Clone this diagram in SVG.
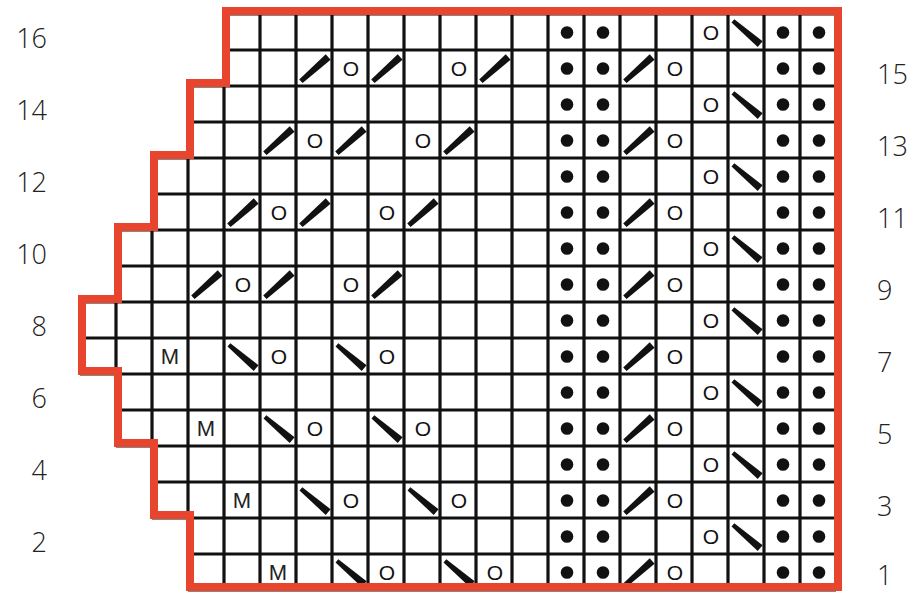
<svg xmlns="http://www.w3.org/2000/svg" xmlns:xlink="http://www.w3.org/1999/xlink" width="912" height="594" viewBox="0 0 912 594">
<style>
.g{stroke:#111;stroke-width:3.2;fill:none}
.red{stroke:#e8452f;stroke-width:8;fill:none;stroke-linejoin:miter}
.lbl{font-family:"Open Sans","Liberation Sans",sans-serif;font-weight:300;font-size:27px;fill:#222}
.o{font-family:"Liberation Sans Narrow","Liberation Sans",sans-serif;font-size:21px;fill:#111;text-anchor:middle}
.m{font-family:"Liberation Sans Narrow","Liberation Sans",sans-serif;font-size:22px;fill:#222;text-anchor:middle}
.d{fill:#111}
</style>
<defs>
<polygon id="sl" points="3.2,29.6 29.7,4.2 34.6,9.8 6.6,33" fill="#111"/>
<polygon id="bs" points="6.3,5.3 34.6,27.3 29.7,32.9 3.5,8.5" fill="#111"/>
<g id="dots4">
<circle class="d" cx="567" cy="18.5" r="6.3"/>
<circle class="d" cx="603" cy="18.5" r="6.3"/>
<circle class="d" cx="783" cy="18.5" r="6.3"/>
<circle class="d" cx="819" cy="18.5" r="6.3"/>
</g>
</defs>
<rect width="912" height="594" fill="#fff"/>
<g id="grid" class="g">
<path d="M224,14H836M224,50H836M188,86H836M188,122H836M152,158H836M152,194H836M116,230H836M116,266H836M80,302H836M80,338H836M80,374H836M116,410H836M116,446H836M152,482H836M152,518H836M188,554H836M188,590H836"/>
<path d="M80,302V374M116,230V410M152,158V482M188,86V590M224,14V590M260,14V590M296,14V590M332,14V590M368,14V590M404,14V590M440,14V590M476,14V590M512,14V590M548,14V590M584,14V590M620,14V590M656,14V590M692,14V590M728,14V590M764,14V590M800,14V590M836,14V590"/>
</g>
<g id="symbols">
<g id="r16"><use xlink:href="#dots4" y="14"/><text class="o" x="711" y="39.5">O</text><use xlink:href="#bs" x="728" y="14"/></g>
<g id="r15"><use xlink:href="#dots4" y="50"/><use xlink:href="#sl" x="296" y="50"/><text class="o" x="351" y="75.5">O</text><use xlink:href="#sl" x="368" y="50"/><text class="o" x="459" y="75.5">O</text><use xlink:href="#sl" x="476" y="50"/><use xlink:href="#sl" x="620" y="50"/><text class="o" x="675" y="75.5">O</text></g>
<g id="r14"><use xlink:href="#dots4" y="86"/><text class="o" x="711" y="111.5">O</text><use xlink:href="#bs" x="728" y="86"/></g>
<g id="r13"><use xlink:href="#dots4" y="122"/><use xlink:href="#sl" x="260" y="122"/><text class="o" x="315" y="147.5">O</text><use xlink:href="#sl" x="332" y="122"/><text class="o" x="423" y="147.5">O</text><use xlink:href="#sl" x="440" y="122"/><use xlink:href="#sl" x="620" y="122"/><text class="o" x="675" y="147.5">O</text></g>
<g id="r12"><use xlink:href="#dots4" y="158"/><text class="o" x="711" y="183.5">O</text><use xlink:href="#bs" x="728" y="158"/></g>
<g id="r11"><use xlink:href="#dots4" y="194"/><use xlink:href="#sl" x="224" y="194"/><text class="o" x="279" y="219.5">O</text><use xlink:href="#sl" x="296" y="194"/><text class="o" x="387" y="219.5">O</text><use xlink:href="#sl" x="404" y="194"/><use xlink:href="#sl" x="620" y="194"/><text class="o" x="675" y="219.5">O</text></g>
<g id="r10"><use xlink:href="#dots4" y="230"/><text class="o" x="711" y="255.5">O</text><use xlink:href="#bs" x="728" y="230"/></g>
<g id="r9"><use xlink:href="#dots4" y="266"/><use xlink:href="#sl" x="188" y="266"/><text class="o" x="243" y="291.5">O</text><use xlink:href="#sl" x="260" y="266"/><text class="o" x="351" y="291.5">O</text><use xlink:href="#sl" x="368" y="266"/><use xlink:href="#sl" x="620" y="266"/><text class="o" x="675" y="291.5">O</text></g>
<g id="r8"><use xlink:href="#dots4" y="302"/><text class="o" x="711" y="327.5">O</text><use xlink:href="#bs" x="728" y="302"/></g>
<g id="r7"><use xlink:href="#dots4" y="338"/><text class="m" x="170" y="363.5">M</text><use xlink:href="#bs" x="224" y="338"/><text class="o" x="279" y="363.5">O</text><use xlink:href="#bs" x="332" y="338"/><text class="o" x="387" y="363.5">O</text><use xlink:href="#sl" x="620" y="338"/><text class="o" x="675" y="363.5">O</text></g>
<g id="r6"><use xlink:href="#dots4" y="374"/><text class="o" x="711" y="399.5">O</text><use xlink:href="#bs" x="728" y="374"/></g>
<g id="r5"><use xlink:href="#dots4" y="410"/><text class="m" x="206" y="435.5">M</text><use xlink:href="#bs" x="260" y="410"/><text class="o" x="315" y="435.5">O</text><use xlink:href="#bs" x="368" y="410"/><text class="o" x="423" y="435.5">O</text><use xlink:href="#sl" x="620" y="410"/><text class="o" x="675" y="435.5">O</text></g>
<g id="r4"><use xlink:href="#dots4" y="446"/><text class="o" x="711" y="471.5">O</text><use xlink:href="#bs" x="728" y="446"/></g>
<g id="r3"><use xlink:href="#dots4" y="482"/><text class="m" x="242" y="507.5">M</text><use xlink:href="#bs" x="296" y="482"/><text class="o" x="351" y="507.5">O</text><use xlink:href="#bs" x="404" y="482"/><text class="o" x="459" y="507.5">O</text><use xlink:href="#sl" x="620" y="482"/><text class="o" x="675" y="507.5">O</text></g>
<g id="r2"><use xlink:href="#dots4" y="518"/><text class="o" x="711" y="543.5">O</text><use xlink:href="#bs" x="728" y="518"/></g>
<g id="r1"><use xlink:href="#dots4" y="554"/><text class="m" x="278" y="579.5">M</text><use xlink:href="#bs" x="332" y="554"/><text class="o" x="387" y="579.5">O</text><use xlink:href="#bs" x="440" y="554"/><text class="o" x="495" y="579.5">O</text><use xlink:href="#sl" x="620" y="554"/><text class="o" x="675" y="579.5">O</text></g>
</g>
<g id="outline"><path class="red" transform="translate(2,-3)" d="M224,14H836V590H188V518H152V446H116V374H80V302H116V230H152V158H188V86H224Z"/></g>
<g id="labels-left" class="lbl" text-anchor="end">
<text x="47" y="48">16</text>
<text x="47" y="120">14</text>
<text x="47" y="192">12</text>
<text x="47" y="264">10</text>
<text x="47" y="336">8</text>
<text x="47" y="408">6</text>
<text x="47" y="480">4</text>
<text x="47" y="552">2</text>
</g>
<g id="labels-right" class="lbl">
<text x="877" y="84">15</text>
<text x="877" y="156">13</text>
<text x="877" y="228">11</text>
<text x="877" y="300">9</text>
<text x="877" y="372">7</text>
<text x="877" y="444">5</text>
<text x="877" y="516">3</text>
<text x="877" y="585">1</text>
</g>
</svg>
